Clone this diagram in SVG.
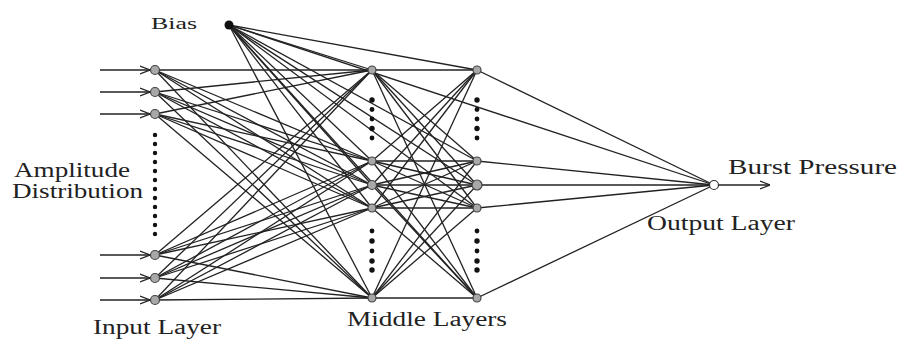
<svg xmlns="http://www.w3.org/2000/svg" width="899" height="340" viewBox="0 0 899 340">
<defs>
<style>
.c line{stroke:#222;stroke-width:1.3;fill:none}
.n{fill:#a8a8a8;stroke:#444;stroke-width:1.2}
.dot{fill:#111}
text{font-family:"Liberation Serif","Times New Roman",serif;font-size:20px;fill:#222}
</style>
<marker id="arr" viewBox="0 0 10 10" refX="10" refY="5" markerWidth="10" markerHeight="10" markerUnits="userSpaceOnUse" orient="auto">
<path d="M0,1 L10,5 L0,9" fill="none" stroke="#222" stroke-width="1.2"/>
</marker>
</defs>
<rect width="899" height="340" fill="#fff"/>
<g id="connectors" class="c">
<line x1="100" y1="70" x2="150" y2="70" marker-end="url(#arr)"/>
<line x1="100" y1="92" x2="150" y2="92" marker-end="url(#arr)"/>
<line x1="100" y1="114" x2="150" y2="114" marker-end="url(#arr)"/>
<line x1="100" y1="255" x2="150" y2="255" marker-end="url(#arr)"/>
<line x1="100" y1="278" x2="150" y2="278" marker-end="url(#arr)"/>
<line x1="100" y1="300" x2="150" y2="300" marker-end="url(#arr)"/>
<line x1="718" y1="185" x2="770" y2="185" marker-end="url(#arr)"/>
<line x1="155" y1="70" x2="372" y2="70"/><line x1="155" y1="70" x2="372" y2="161"/><line x1="155" y1="70" x2="372" y2="185"/><line x1="155" y1="70" x2="372" y2="208"/><line x1="155" y1="70" x2="372" y2="298"/>
<line x1="155" y1="92" x2="372" y2="70"/><line x1="155" y1="92" x2="372" y2="161"/><line x1="155" y1="92" x2="372" y2="185"/><line x1="155" y1="92" x2="372" y2="208"/><line x1="155" y1="92" x2="372" y2="298"/>
<line x1="155" y1="114" x2="372" y2="70"/><line x1="155" y1="114" x2="372" y2="161"/><line x1="155" y1="114" x2="372" y2="185"/><line x1="155" y1="114" x2="372" y2="208"/><line x1="155" y1="114" x2="372" y2="298"/>
<line x1="155" y1="255" x2="372" y2="70"/><line x1="155" y1="255" x2="372" y2="161"/><line x1="155" y1="255" x2="372" y2="185"/><line x1="155" y1="255" x2="372" y2="208"/><line x1="155" y1="255" x2="372" y2="298"/>
<line x1="155" y1="278" x2="372" y2="70"/><line x1="155" y1="278" x2="372" y2="161"/><line x1="155" y1="278" x2="372" y2="185"/><line x1="155" y1="278" x2="372" y2="208"/><line x1="155" y1="278" x2="372" y2="298"/>
<line x1="155" y1="300" x2="372" y2="70"/><line x1="155" y1="300" x2="372" y2="161"/><line x1="155" y1="300" x2="372" y2="185"/><line x1="155" y1="300" x2="372" y2="208"/><line x1="155" y1="300" x2="372" y2="298"/>
<line x1="229" y1="25" x2="372" y2="70"/><line x1="229" y1="25" x2="372" y2="161"/><line x1="229" y1="25" x2="372" y2="185"/><line x1="229" y1="25" x2="372" y2="208"/><line x1="229" y1="25" x2="372" y2="298"/>
<line x1="229" y1="25" x2="477" y2="70"/><line x1="229" y1="25" x2="477" y2="161"/><line x1="229" y1="25" x2="477" y2="185"/><line x1="229" y1="25" x2="477" y2="208"/><line x1="229" y1="25" x2="477" y2="298"/>
<line x1="229" y1="25" x2="714" y2="185"/>
<line x1="372" y1="70" x2="477" y2="70"/><line x1="372" y1="70" x2="477" y2="161"/><line x1="372" y1="70" x2="477" y2="185"/><line x1="372" y1="70" x2="477" y2="208"/><line x1="372" y1="70" x2="477" y2="298"/>
<line x1="372" y1="161" x2="477" y2="70"/><line x1="372" y1="161" x2="477" y2="161"/><line x1="372" y1="161" x2="477" y2="185"/><line x1="372" y1="161" x2="477" y2="208"/><line x1="372" y1="161" x2="477" y2="298"/>
<line x1="372" y1="185" x2="477" y2="70"/><line x1="372" y1="185" x2="477" y2="161"/><line x1="372" y1="185" x2="477" y2="185"/><line x1="372" y1="185" x2="477" y2="208"/><line x1="372" y1="185" x2="477" y2="298"/>
<line x1="372" y1="208" x2="477" y2="70"/><line x1="372" y1="208" x2="477" y2="161"/><line x1="372" y1="208" x2="477" y2="185"/><line x1="372" y1="208" x2="477" y2="208"/><line x1="372" y1="208" x2="477" y2="298"/>
<line x1="372" y1="298" x2="477" y2="70"/><line x1="372" y1="298" x2="477" y2="161"/><line x1="372" y1="298" x2="477" y2="185"/><line x1="372" y1="298" x2="477" y2="208"/><line x1="372" y1="298" x2="477" y2="298"/>
<line x1="477" y1="70" x2="714" y2="185"/><line x1="477" y1="161" x2="714" y2="185"/><line x1="477" y1="185" x2="714" y2="185"/><line x1="477" y1="208" x2="714" y2="185"/><line x1="477" y1="298" x2="714" y2="185"/>
</g>
<g id="bias"><circle cx="229" cy="25" r="4.5" fill="#111"/><text x="151" y="29" textLength="46" lengthAdjust="spacingAndGlyphs" style="font-size:17px">Bias</text></g>
<g id="input-layer">
<circle class="n" cx="155" cy="70" r="4.5"/><circle class="n" cx="155" cy="92" r="4.5"/><circle class="n" cx="155" cy="114" r="4.5"/>
<circle class="n" cx="155" cy="255" r="4.5"/><circle class="n" cx="155" cy="278" r="4.5"/><circle class="n" cx="155" cy="300" r="4.5"/>
<g class="dot"><circle cx="155" cy="135" r="2.2"/><circle cx="155" cy="144" r="2.2"/><circle cx="155" cy="153" r="2.2"/><circle cx="155" cy="162" r="2.2"/><circle cx="155" cy="171" r="2.2"/><circle cx="155" cy="180" r="2.2"/><circle cx="155" cy="189" r="2.2"/><circle cx="155" cy="198" r="2.2"/><circle cx="155" cy="207" r="2.2"/><circle cx="155" cy="216" r="2.2"/><circle cx="155" cy="225" r="2.2"/><circle cx="155" cy="234" r="2.2"/></g>
<text x="93" y="334" textLength="128" lengthAdjust="spacingAndGlyphs">Input Layer</text>
</g>
<g id="amplitude-label">
<text x="14" y="177" textLength="116" lengthAdjust="spacingAndGlyphs">Amplitude</text>
<text x="12" y="198" textLength="131" lengthAdjust="spacingAndGlyphs">Distribution</text>
</g>
<g id="middle-layer-1">
<circle class="n" cx="372" cy="70" r="4"/><circle class="n" cx="372" cy="161" r="4"/><circle class="n" cx="372" cy="185" r="4.5"/><circle class="n" cx="372" cy="208" r="4"/><circle class="n" cx="372" cy="298" r="4"/>
<g class="dot"><circle cx="372" cy="100" r="2.7"/><circle cx="372" cy="109.5" r="2.4"/><circle cx="372" cy="119" r="2.4"/><circle cx="372" cy="128.5" r="2.7"/><circle cx="372" cy="138" r="2.4"/><circle cx="372" cy="231" r="2.4"/><circle cx="372" cy="241" r="2.7"/><circle cx="372" cy="251" r="2.4"/><circle cx="372" cy="261" r="2.7"/><circle cx="372" cy="270" r="2.7"/></g>
</g>
<g id="middle-layer-2">
<circle class="n" cx="477" cy="70" r="4"/><circle class="n" cx="477" cy="161" r="4"/><circle class="n" cx="477" cy="185" r="5"/><circle class="n" cx="477" cy="208" r="4"/><circle class="n" cx="477" cy="298" r="4"/>
<g class="dot"><circle cx="477" cy="100" r="2.7"/><circle cx="477" cy="109.5" r="2.4"/><circle cx="477" cy="119" r="2.4"/><circle cx="477" cy="128.5" r="2.7"/><circle cx="477" cy="138" r="2.4"/><circle cx="477" cy="231" r="2.4"/><circle cx="477" cy="241" r="2.7"/><circle cx="477" cy="251" r="2.4"/><circle cx="477" cy="261" r="2.7"/><circle cx="477" cy="270" r="2.7"/></g>
</g>
<text x="347" y="326" textLength="160" lengthAdjust="spacingAndGlyphs">Middle Layers</text>
<g id="output-layer">
<circle cx="714" cy="185" r="4.5" fill="#fff" stroke="#333" stroke-width="1.2"/>
<text x="647" y="230" textLength="148" lengthAdjust="spacingAndGlyphs">Output Layer</text>
</g>
<g id="burst-pressure"><text x="728" y="174" textLength="169" lengthAdjust="spacingAndGlyphs">Burst Pressure</text></g>
</svg>
